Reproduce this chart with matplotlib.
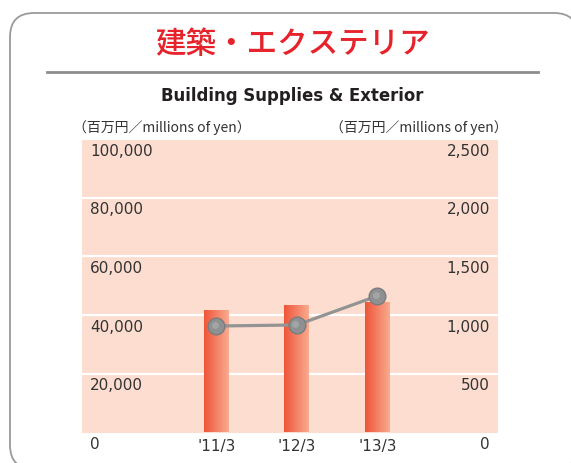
import numpy as np
import matplotlib
matplotlib.use('Agg')
from matplotlib import pyplot as plt
from matplotlib.patches import FancyBboxPatch

plt.rcParams['font.family'] = ['Noto Sans CJK JP', 'DejaVu Sans']

# data
periods = ["'11/3", "'12/3", "'13/3"]
sales = [41700, 43500, 44400]          # left axis, bars
income = [907, 916, 1163]              # right axis, line
left_ticks = [0, 20000, 40000, 60000, 80000, 100000]
right_ticks = [0, 500, 1000, 1500, 2000, 2500]

W, H = 571, 463
fig = plt.figure(figsize=(W / 100, H / 100), dpi=100)

# background layer in pixel coordinates
bg = fig.add_axes([0, 0, 1, 1])
bg.set_xlim(0, W)
bg.set_ylim(H, 0)
bg.axis('off')
frame = FancyBboxPatch((10, 13), 568, 456, boxstyle='round,pad=0,rounding_size=24',
                       facecolor='white', edgecolor='#9a9a9a', linewidth=1.3)
bg.add_patch(frame)
bg.plot([47, 538], [72, 72], color='#8c8c8c', linewidth=2)
bg.text(292, 45, '建築・エクステリア', color='#e6222b', fontsize=22, fontweight='medium',
        ha='center', va='center')
bg.text(292.5, 96, 'Building Supplies & Exterior', fontsize=13.2, fontweight='bold',
        fontstretch='condensed', family=['DejaVu Sans'], color='#231f20',
        ha='center', va='center')
bg.text(162, 128, '（百万円／millions of yen）', fontsize=10, color='#333333',
        ha='center', va='center')
bg.text(418.5, 128, '（百万円／millions of yen）', fontsize=10, color='#333333',
        ha='center', va='center')

# main chart
left, right, top, bottom = 82, 498, 139, 432.5
ax = fig.add_axes([left / W, (H - bottom) / H, (right - left) / W, (bottom - top) / H])
ax.set_facecolor('#fcddd0')
x = np.arange(len(periods))
for s in ax.spines.values():
    s.set_visible(False)
ax.set_yticks([])
ax.set_xticks(x)
ax.set_xticklabels(periods, fontsize=11, color='#333333', family='DejaVu Sans')
ax.tick_params(axis='x', length=0, pad=5)
for t in left_ticks[1:]:
    ax.axhline(t, color='white', linewidth=1.6, zorder=1)

bars = ax.bar(x, sales, width=0.31, color='none', edgecolor='none', zorder=2)
grad = np.linspace(0, 1, 256).reshape(1, -1)
cmap = matplotlib.colors.LinearSegmentedColormap.from_list('bar', ['#ee5539', '#f9ab90'])
for b in bars:
    x0, y0 = b.get_x(), b.get_y()
    im = ax.imshow(grad, cmap=cmap, aspect='auto', zorder=2,
                   extent=[x0, x0 + b.get_width(), y0, y0 + b.get_height()])
    im.set_clip_path(b)
ax.set_xlim(-1.67, 3.5)
ax.set_ylim(0, 100000)

for t in left_ticks:
    ax.annotate(f'{t:,}', xy=(0, t), xycoords=('axes fraction', 'data'),
                xytext=(8, -12), textcoords='offset pixels', ha='left', va='center',
                fontsize=11, family='DejaVu Sans', color='#333333', annotation_clip=False)

ax2 = ax.twinx()
ax2.set_ylim(0, 2500)
ax2.axis('off')
ax2.plot(x, income, color='#939393', linewidth=2.3, zorder=3)
ax2.plot(x, income, 'o', markersize=12, markerfacecolor='#8e9092',
         markeredgecolor='#7a7c7e', markeredgewidth=1, zorder=4)
ax2.plot(x - 0.02, [v + 12 for v in income], 'o', markersize=5,
         markerfacecolor='#a8aaac', markeredgecolor='none', zorder=5, alpha=0.8)
for t in right_ticks:
    ax2.annotate(f'{t:,}', xy=(1, t), xycoords=('axes fraction', 'data'),
                 xytext=(-8, -12), textcoords='offset pixels', ha='right', va='center',
                 fontsize=11, family='DejaVu Sans', color='#333333', annotation_clip=False)

fig.savefig('out.png', dpi=100)
